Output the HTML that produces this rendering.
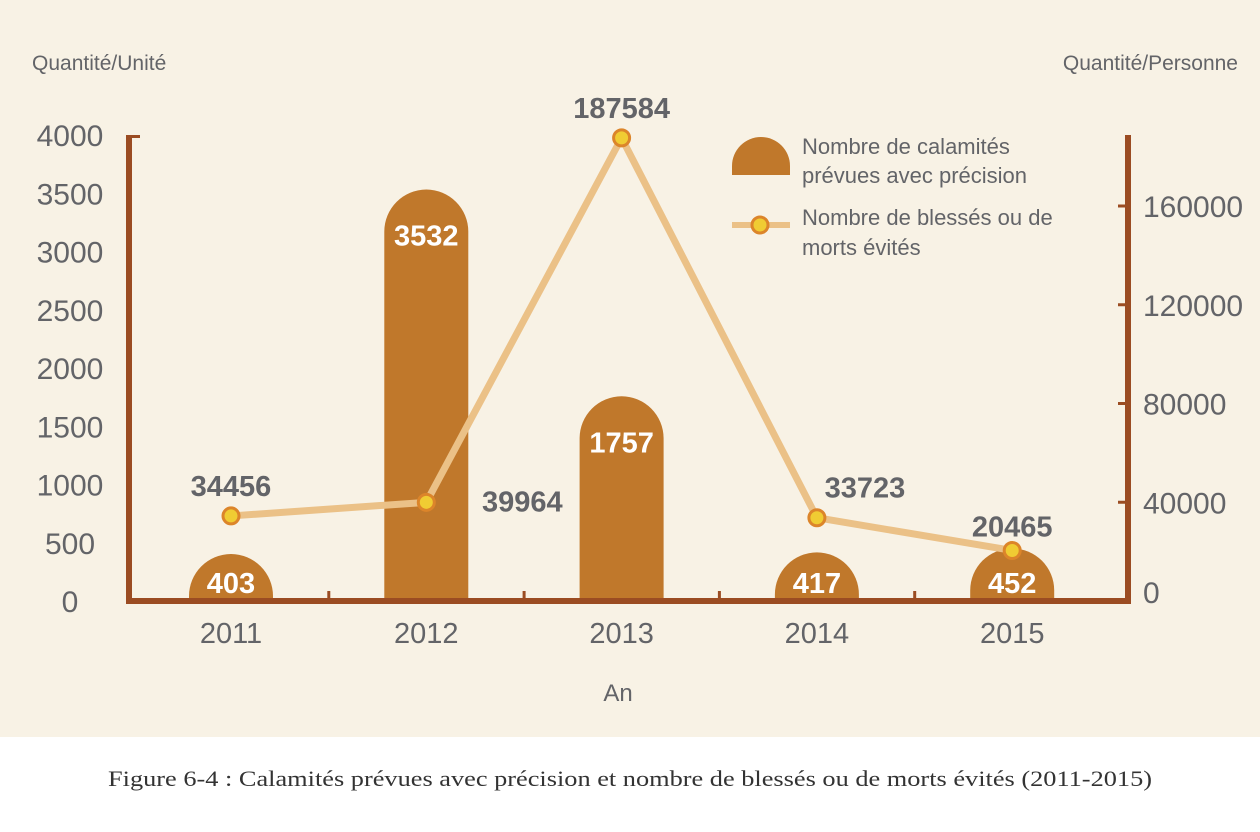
<!DOCTYPE html>
<html><head><meta charset="utf-8"><style>
body{margin:0;width:1260px;height:827px;background:#fff;overflow:hidden}
svg text{font-family:"Liberation Sans",sans-serif}
</style></head><body>
<svg width="1260" height="827">
<rect x="0" y="0" width="1260" height="737" fill="#f8f2e5"/>
<g id="g"></g>
<text x="108" y="786" textLength="1044" lengthAdjust="spacingAndGlyphs" style="font-family:'Liberation Serif',serif" font-size="22" fill="#333">Figure 6-4 : Calamités prévues avec précision et nombre de blessés ou de morts évités (2011-2015)</text>
</svg>
<script>
const years=["2011","2012","2013","2014","2015"];
const calamities=[403,3532,1757,417,452];
const people=[34456,39964,187584,33723,20465];
const leftTicks=[0,500,1000,1500,2000,2500,3000,3500,4000];
const rightTicks=[0,40000,80000,120000,160000];
const NS="http://www.w3.org/2000/svg";
const g=document.getElementById('g');
function el(t,a,txt){const e=document.createElementNS(NS,t);for(const k in a)e.setAttribute(k,a[k]);if(txt!==undefined)e.textContent=txt;g.appendChild(e);return e;}
const y0=601;
const yL=v=>y0-v*(601-135)/4000;
const yR=v=>y0-v*(601-206)/160000;
const xC=i=>231+i*195.3;
const grey="#636468", brown="#c0782b", axis="#9b4c22";
calamities.forEach((v,i)=>{
  const x=xC(i),r=42,top=Math.min(yL(v),y0-r+5);
  const b=el('path',{d:`M${x-r},604 L${x-r},${top+r} A${r},${r} 0 0 1 ${x+r},${top+r} L${x+r},604 Z`,fill:brown});
  
  
  const ly=v>1000?top+56:593;
  const t=el('text',{x:x,y:ly,'text-anchor':'middle','font-size':29,'font-weight':'bold',fill:'#fff'},v);
  
  
});
let a=el('rect',{x:126,y:135,width:6,height:469,fill:axis});
a=el('rect',{x:1125,y:135,width:6,height:469,fill:axis});
a=el('rect',{x:126,y:598,width:1005,height:6,fill:axis});
el('rect',{x:126,y:135,width:14,height:3,fill:axis});
[1,2,3,4].forEach(i=>el('rect',{x:xC(i)-97.5-1.5,y:591,width:3,height:8,fill:axis}));
leftTicks.forEach(v=>{const t=el('text',{x:70,y:yL(v)+11,'text-anchor':'middle','font-size':30,fill:grey},v);});
rightTicks.forEach(v=>{if(v>0)el('rect',{x:1118,y:yR(v)-1.5,width:10,height:3,fill:axis});const t=el('text',{x:1143,y:yR(v)+11+(v==0?-9:0),'text-anchor':'start','font-size':30,fill:grey},v);});
years.forEach((y,i)=>{const t=el('text',{x:xC(i),y:643,'text-anchor':'middle','font-size':29,fill:grey},y);});
let t=el('text',{x:618,y:701,'text-anchor':'middle','font-size':24,fill:grey},'An');
t=el('text',{x:32,y:70,'font-size':21,fill:grey},'Quantité/Unité');
t=el('text',{x:1238,y:70,'text-anchor':'end','font-size':21,fill:grey},'Quantité/Personne');
const pts=people.map((v,i)=>xC(i)+','+yR(v)).join(' ');
const ln=el('polyline',{points:pts,fill:'none',stroke:'#ebc187','stroke-width':7});


people.forEach((v,i)=>{
  const c=el('circle',{cx:xC(i),cy:yR(v),r:8,fill:'#f0cc33',stroke:'#dc852a','stroke-width':3});
  
  
  let lx=xC(i)+(i==3?48:0),ly=yR(v)-20;
  if(i==4)ly=yR(v)-14;
  if(i==1){lx=xC(i)+96;ly=yR(v)+9;}
  const tt=el('text',{x:lx,y:ly,'text-anchor':'middle','font-size':29,'font-weight':'bold',fill:grey},v);
  
  
});
let l=el('path',{d:'M732,175 L732,166 A29,29 0 0 1 790,166 L790,175 Z',fill:brown});
el('text',{x:802,y:154,'font-size':22,fill:grey},'Nombre de calamités');
el('text',{x:802,y:183,'font-size':22,fill:grey},'prévues avec précision');
el('rect',{x:732,y:222,width:58,height:6,fill:'#ebc187'});
l=el('circle',{cx:760,cy:225,r:8,fill:'#f0cc33',stroke:'#dc852a','stroke-width':3});
el('text',{x:802,y:225,'font-size':22,fill:grey},'Nombre de blessés ou de');
el('text',{x:802,y:255,'font-size':22,fill:grey},'morts évités');
</script>
</body></html>
